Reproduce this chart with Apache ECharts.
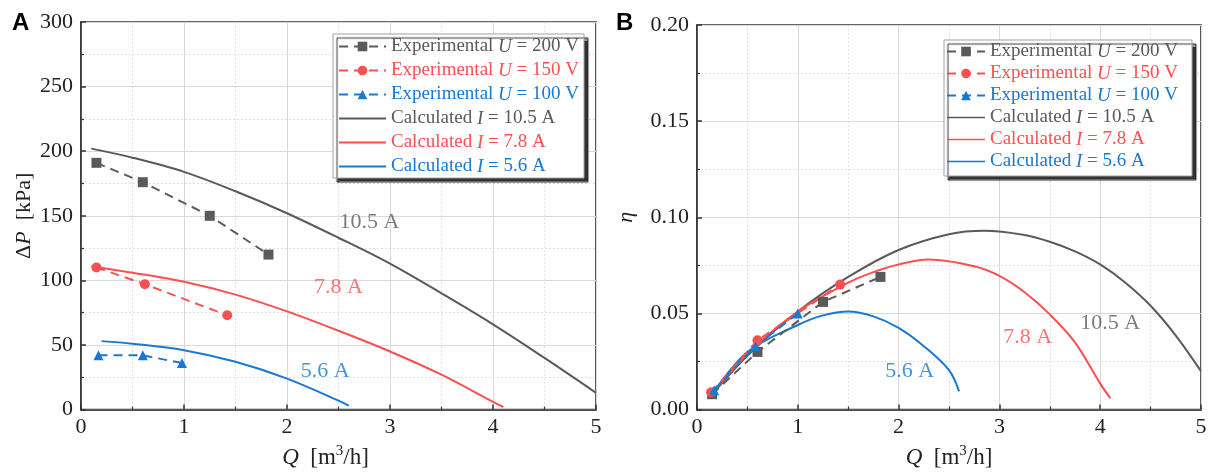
<!DOCTYPE html>
<html>
<head>
<meta charset="utf-8">
<script src="https://cdn.jsdelivr.net/npm/echarts@6/dist/echarts.min.js"></script>
<style>
html,body{margin:0;padding:0;background:#fff;overflow:hidden;}
#c{width:1210px;height:474px;}
</style>
</head>
<body>
<div id="c"></div>
<script>
// ---------- data ----------
const legendNames = ['Experimental U = 200 V', 'Experimental U = 150 V', 'Experimental U = 100 V',
  'Calculated I = 10.5 A', 'Calculated I = 7.8 A', 'Calculated I = 5.6 A'];

// Panel A: pressure difference ΔP [kPa] vs Q [m3/h]
const dpExp200 = [[0.15,191],[0.6,176],[1.25,150],[1.82,120]];
const dpExp150 = [[0.15,110],[0.62,97],[1.42,73]];
const dpExp100 = [[0.17,42],[0.6,42],[0.98,36]];
const dpCalc105 = [[0.1,202],[0.5,195],[1.0,184],[1.5,169],[2.0,152],[2.5,133],[3.0,113],[3.5,90],[4.0,66],[4.5,40],[5.0,13]];
const dpCalc78 = [[0.1,111],[0.5,106],[1.0,99],[1.5,89],[2.0,76],[2.5,61],[3.0,45],[3.5,27],[4.0,6],[4.1,2]];
const dpCalc56 = [[0.2,53],[0.5,51],[1.0,46],[1.5,37],[2.0,24],[2.5,7],[2.6,3]];
const dpLabels = [[2.8,145,'10.5 A'],[2.5,95,'7.8 A'],[2.37,30,'5.6 A']];

// Panel B: efficiency η vs Q [m3/h]
const etaExp200 = [[0.15,0.008],[0.6,0.030],[1.25,0.056],[1.82,0.069]];
const etaExp150 = [[0.14,0.009],[0.6,0.036],[1.42,0.065]];
const etaExp100 = [[0.17,0.010],[0.58,0.033],[1.0,0.050]];
const etaCalc105 = [[0.12,0.006],[0.5,0.028],[1.0,0.051],[1.5,0.069],[2.0,0.083],[2.5,0.0912],[2.85,0.0930],[3.25,0.0908],[3.5,0.0873],[3.75,0.0823],[4.0,0.0755],[4.25,0.066],[4.5,0.054],[4.75,0.0385],[5.0,0.020]];
const etaCalc78 = [[0.12,0.006],[0.5,0.029],[1.0,0.051],[1.5,0.066],[1.75,0.0715],[2.0,0.0755],[2.3,0.0780],[2.75,0.0745],[3.0,0.0695],[3.25,0.061],[3.5,0.0495],[3.75,0.035],[4.0,0.0135],[4.1,0.006]];
const etaCalc56 = [[0.15,0.008],[0.5,0.030],[1.0,0.044],[1.25,0.049],[1.5,0.051],[1.75,0.0485],[2.0,0.0425],[2.25,0.033],[2.5,0.0205],[2.6,0.0095]];
const etaLabels = [[4.1,0.045,'10.5 A'],[3.28,0.0376,'7.8 A'],[2.11,0.0198,'5.6 A']];

const qTickMin = 0, qTickMax = 5, qTickStep = 1;
const dpTickMin = 0, dpTickMax = 300, dpTickStep = 50;
const etaTickMin = 0, etaTickMax = 0.2, etaTickStep = 0.05;

// ---------- styles ----------
const GRAY = '#5a5a5a', RED = '#fa5050', BLUE = '#1878d2';
const FONT = '"Liberation Serif", "Times New Roman", serif';
const keyOf = ['g','r','b','g','r','b'];

function richFor() {
  const r = {};
  [['g',GRAY],['r',RED],['b',BLUE]].forEach(([k,c]) => {
    r[k] = {fontFamily: FONT, fontSize: 19, color: c, lineHeight: 20};
    r[k+'i'] = {fontFamily: FONT, fontSize: 19, color: c, fontStyle: 'italic', lineHeight: 20};
  });
  return r;
}
function legendFormatter(name) {
  const i = legendNames.indexOf(name);
  const k = keyOf[i];
  const m = name.match(/^(\S+) ([UI]) (.*)$/);
  return '{' + k + '|' + m[1] + ' }{' + k + 'i|' + m[2] + '}{' + k + '| ' + m[3] + '}';
}

const chart = echarts.init(document.getElementById('c'), null, {renderer: 'canvas', width: 1210, height: 474});

function makeXAxis(gridIndex, shiftLeft) {
  return {
    type: 'value', gridIndex, min: qTickMin, max: qTickMax, interval: qTickStep,
    name: '{i|Q}{n|  [m}{s|3}{n|/h]}', nameLocation: 'middle', nameGap: 33,
    nameTextStyle: {padding: [0, shiftLeft, 0, 0], rich: {
      i: {fontFamily: FONT, fontSize: 23, fontStyle: 'italic', color: '#222', lineHeight: 28},
      n: {fontFamily: FONT, fontSize: 23, color: '#222', lineHeight: 28},
      s: {fontFamily: FONT, fontSize: 15, color: '#222', verticalAlign: 'top', lineHeight: 15}
    }},
    axisLine: {show: true, lineStyle: {color: '#333', width: 1.6}},
    axisTick: {show: true, inside: true, length: 5, lineStyle: {color: '#333', width: 1.5}},
    minorTick: {show: true, splitNumber: 2, length: 3, lineStyle: {color: '#333', width: 1.2}},
    axisLabel: {fontFamily: FONT, fontSize: 22, color: '#222', margin: 7},
    splitLine: {show: true, lineStyle: {color: '#d9d9d9', width: 1}},
    minorSplitLine: {show: true, lineStyle: {color: '#e0e0e0', type: [2,2], width: 1}}
  };
}
function makeYAxis(gridIndex, min, max, step, fmt, name, nameGap) {
  return {
    type: 'value', gridIndex, min, max, interval: step,
    name, nameLocation: 'middle', nameRotate: 90, nameGap,
    nameTextStyle: {rich: {
      i: {fontFamily: FONT, fontSize: 22, fontStyle: 'italic', color: '#222'},
      n: {fontFamily: FONT, fontSize: 22, color: '#222'}
    }},
    axisLine: {show: true, lineStyle: {color: '#333', width: 1.6}},
    axisTick: {show: true, inside: true, length: 5, lineStyle: {color: '#333', width: 1.5}},
    minorTick: {show: true, splitNumber: 2, length: 3, lineStyle: {color: '#333', width: 1.2}},
    axisLabel: {fontFamily: FONT, fontSize: 22, color: '#222', margin: 8, formatter: fmt},
    splitLine: {show: true, lineStyle: {color: '#d9d9d9', width: 1}},
    minorSplitLine: {show: true, lineStyle: {color: '#e0e0e0', type: [2,2], width: 1}}
  };
}

function expSeries(name, data, color, symbol, size, xi) {
  return {
    name, type: 'line', xAxisIndex: xi, yAxisIndex: xi, data, color,
    symbol, symbolSize: size, showSymbol: true, z: 4,
    lineStyle: {color, width: 2, type: [9,6]},
    itemStyle: {color},
    emphasis: {disabled: true}, animation: false
  };
}
function calcSeries(name, data, color, xi) {
  return {
    name, type: 'line', xAxisIndex: xi, yAxisIndex: xi, data, color,
    smooth: 0.35, symbol: 'none', showSymbol: false, z: 3,
    lineStyle: {color, width: 2},
    itemStyle: {color},
    emphasis: {disabled: true}, animation: false
  };
}
function labelSeries(data, xi) {
  return {
    type: 'scatter', xAxisIndex: xi, yAxisIndex: xi, symbolSize: 0, z: 5, silent: true,
    data: data.map((d, i) => ({value: [d[0], d[1]], label: {
      show: true, position: 'inside', formatter: d[2],
      fontFamily: FONT, fontSize: 22, color: [GRAY, RED, BLUE][i]
    }})),
    animation: false
  };
}

const LINE_ICON = 'path://M0,0L50,0L50,2.2L0,2.2Z';
function makeLegend(left, top, gap, itemWidth, padding) {
  return {
    show: true, orient: 'vertical', left, top, itemGap: gap,
    itemWidth, itemHeight: 12, padding,
    data: legendNames.map((n, i) => i < 3 ? n : {name: n, icon: LINE_ICON}),
    formatter: legendFormatter,
    textStyle: {rich: richFor(), fontFamily: FONT, fontSize: 19},
    backgroundColor: '#fff', borderColor: '#a0a0a0', borderWidth: 1,
    shadowColor: 'rgba(30,30,30,0.9)', shadowBlur: 1, shadowOffsetX: 4, shadowOffsetY: 4,
    selectedMode: false
  };
}

const option = {
  animation: false,
  backgroundColor: '#fff',
  grid: [
    {left: 81, top: 22, width: 515, height: 393, show: true, borderColor: '#333', borderWidth: 1.6, backgroundColor: 'transparent'},
    {left: 697, top: 25, width: 504, height: 394, show: true, borderColor: '#333', borderWidth: 1.6, backgroundColor: 'transparent'}
  ],
  xAxis: [makeXAxis(0, 26), makeXAxis(1, 0)],
  yAxis: [
    makeYAxis(0, dpTickMin, dpTickMax, dpTickStep, v => String(v), '{n|Δ}{i|P}{n|  [kPa]}', 46),
    makeYAxis(1, etaTickMin, etaTickMax, etaTickStep, v => v.toFixed(2), '{i|η}', 60)
  ],
  legend: [
    makeLegend(333, 34, 5, 47, [3, 5, 2, 5]),
    makeLegend(944, 40, 3, 38, [2, 14, 5, 2])
  ],
  graphic: [
    {type: 'text', left: 12, top: 11, style: {text: 'A', font: 'bold 24px "Liberation Sans", Arial, sans-serif', fill: '#000'}},
    {type: 'text', left: 616, top: 11, style: {text: 'B', font: 'bold 24px "Liberation Sans", Arial, sans-serif', fill: '#000'}}
  ],
  series: [
    calcSeries(legendNames[3], dpCalc105, GRAY, 0),
    calcSeries(legendNames[4], dpCalc78, RED, 0),
    calcSeries(legendNames[5], dpCalc56, BLUE, 0),
    expSeries(legendNames[0], dpExp200, GRAY, 'rect', 10, 0),
    expSeries(legendNames[1], dpExp150, RED, 'circle', 10, 0),
    expSeries(legendNames[2], dpExp100, BLUE, 'triangle', 10, 0),
    labelSeries(dpLabels, 0),
    calcSeries(legendNames[3], etaCalc105, GRAY, 1),
    calcSeries(legendNames[4], etaCalc78, RED, 1),
    calcSeries(legendNames[5], etaCalc56, BLUE, 1),
    expSeries(legendNames[0], etaExp200, GRAY, 'rect', 10, 1),
    expSeries(legendNames[1], etaExp150, RED, 'circle', 10, 1),
    expSeries(legendNames[2], etaExp100, BLUE, 'triangle', 10, 1),
    labelSeries(etaLabels, 1)
  ]
};
chart.setOption(option);
</script>
</body>
</html>
